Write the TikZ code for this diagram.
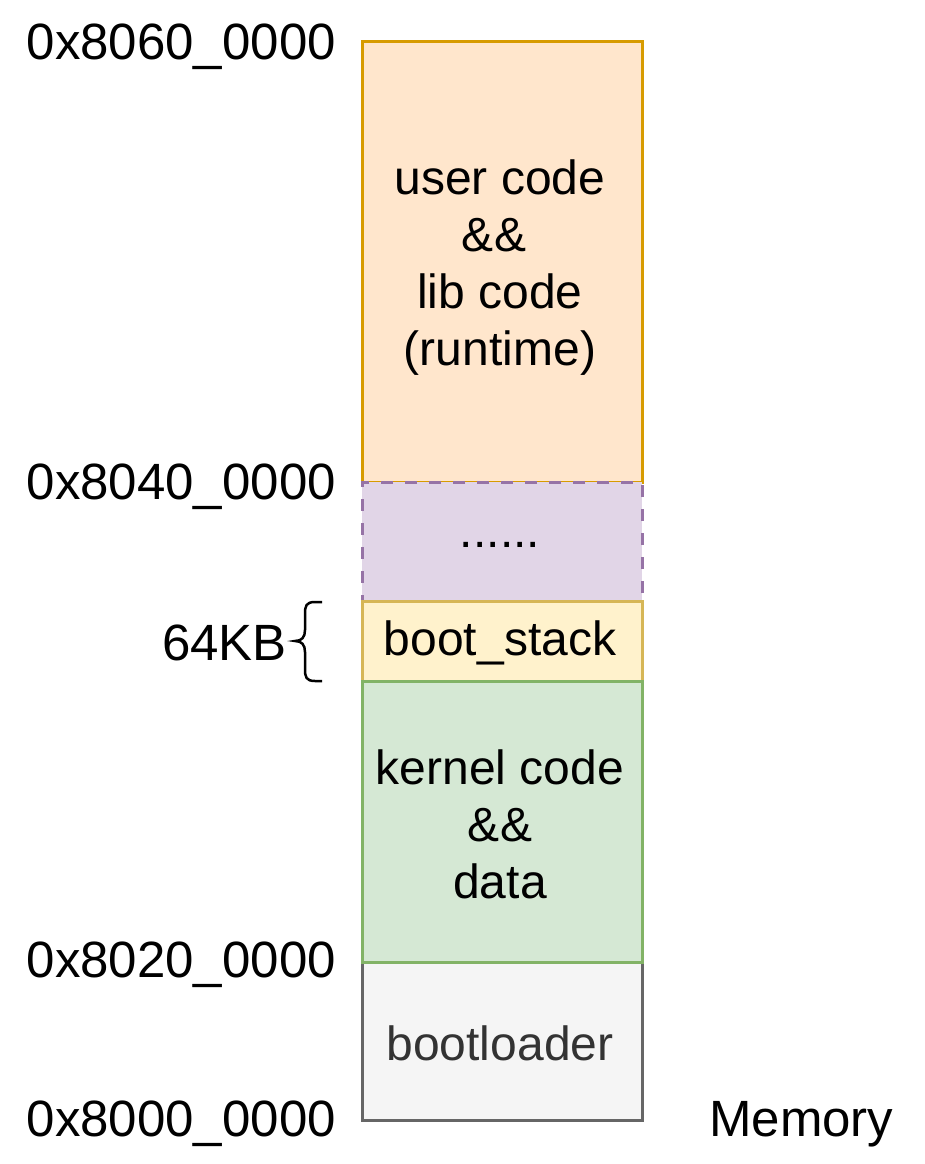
\documentclass[tikz,border=0pt]{standalone}
\usepackage{fontspec}
\setmainfont{Liberation Sans}
\definecolor{userfill}{HTML}{FFE6CC}
\definecolor{userdraw}{HTML}{D79B00}
\definecolor{dotsfill}{HTML}{E1D5E7}
\definecolor{dotsdraw}{HTML}{9673A6}
\definecolor{stackfill}{HTML}{FFF2CC}
\definecolor{stackdraw}{HTML}{D6B656}
\definecolor{kernfill}{HTML}{D5E8D4}
\definecolor{kerndraw}{HTML}{82B366}
\definecolor{bootfill}{HTML}{F5F5F5}
\definecolor{bootdraw}{HTML}{666666}
\definecolor{boottext}{HTML}{333333}
\begin{document}
\begin{tikzpicture}[x=1pt,y=-1pt,
  region/.style={draw, line width=3pt, minimum width=280pt, inner sep=0pt, outer sep=0pt, align=center, font=\fontsize{48}{57}\selectfont},
  addr/.style={anchor=east, inner sep=0pt, font=\fontsize{51}{60}\selectfont}
]
\useasboundingbox (0,0) rectangle (924,1164);
\node[region, fill=userfill, draw=userdraw, minimum height=440pt] (user) at (502,262) {};
\node[inner sep=0pt, align=center, font=\fontsize{48}{57}\selectfont] (usertext) at (500,268) {user code\\\hspace*{-12pt}\&\&\\lib code\\(runtime)};
\node[region, fill=dotsfill, draw=dotsdraw, dash pattern=on 12pt off 12pt, minimum height=119pt] (dots) at (502,541.5) {};
\node[inner sep=0pt, font=\fontsize{48}{57}\selectfont] (dotstext) at (500,545) {......};
\node[region, fill=stackfill, draw=stackdraw, minimum height=80pt] (stack) at (502,641) {};
\node[inner sep=0pt, font=\fontsize{48}{57}\selectfont] (stacktext) at (500,643) {boot\_stack};
\node[region, fill=bootfill, draw=bootdraw, minimum height=158pt] (boot) at (502,1041) {};
\node[inner sep=0pt, text=boottext, font=\fontsize{48}{57}\selectfont] (boottxt) at (500,1043) {bootloader};
\node[region, fill=kernfill, draw=kerndraw, minimum height=281pt] (kern) at (502,821.5) {};
\node[inner sep=0pt, align=center, font=\fontsize{48}{57}\selectfont] (kerntext) at (500,824) {kernel code\\\&\&\\data};
\node[addr] (a60) at (336,47) {0x8060\_0000};
\node[addr] (a40) at (336,487) {0x8040\_0000};
\node[addr] (a20) at (336,965) {0x8020\_0000};
\node[addr] (a00) at (336,1124) {0x8000\_0000};
\node[addr] (kb) at (287,643) {64KB};
\node[anchor=west, inner sep=0pt, font=\fontsize{51}{60}\selectfont] (mem) at (709,1124) {Memory};
\coordinate (btop) at (322,602);
\coordinate (bbot) at (322,681);
\draw[line width=2.5pt, line cap=butt] (btop) -- (315,602) .. controls (306,602) and (305,606) .. (305,614) -- (305,630) .. controls (305,637) and (302,641) .. (295,641) .. controls (302,641) and (305,645) .. (305,652) -- (305,669) .. controls (305,677) and (306,681) .. (315,681) -- (bbot);
\end{tikzpicture}
\end{document}
